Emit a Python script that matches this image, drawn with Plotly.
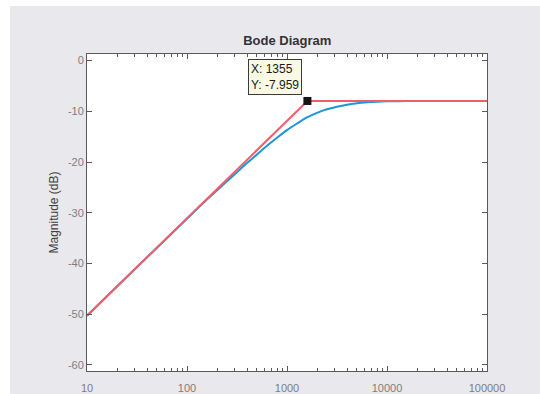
import plotly.graph_objects as go

# ---- data ----
freq_actual = [10, 31.6, 100, 158, 251, 316, 398, 501, 631, 794, 1000, 1259, 1585,
               1995, 2512, 3162, 3981, 5012, 6310, 7943, 10000, 15849, 31623, 100000]
mag_actual = [-50.3, -40.7, -31.2, -27.4, -23.8, -22.0, -20.2, -18.5, -16.8, -15.2,
              -13.7, -12.4, -11.2, -10.3, -9.6, -9.1, -8.7, -8.42, -8.23, -8.1,
              -8.03, -7.99, -7.97, -7.96]

freq_asym = [10, 1600, 100000]
mag_asym = [-50.3, -7.959, -7.959]

tip_freq = [1600]
tip_mag = [-7.959]
tip_text = "X: 1355<br>Y: -7.959"

x_tickvals = [10, 100, 1000, 10000, 100000]
x_ticktext = ["10", "100", "1000", "10000", "100000"]
y_tickvals = [-60, -50, -40, -30, -20, -10, 0]
y_ticktext = ["-60", "-50", "-40", "-30", "-20", "-10", "0"]

BLUE = "#1c97d3"
RED = "#f25d6b"
AXC = "#5a5a5a"
BG = "#e9e9ed"

fig = go.Figure()
fig.add_trace(go.Scatter(x=freq_actual, y=mag_actual, mode="lines",
                         line=dict(color=BLUE, width=2, shape="spline", smoothing=0.8),
                         hoverinfo="skip"))
fig.add_trace(go.Scatter(x=freq_asym, y=mag_asym, mode="lines",
                         line=dict(color=RED, width=2), hoverinfo="skip"))
fig.add_trace(go.Scatter(x=tip_freq, y=tip_mag, mode="markers",
                         marker=dict(symbol="square", size=8, color="#151515"),
                         hoverinfo="skip"))

fig.add_annotation(x=3.204, y=tip_mag[0], xref="x", yref="y", text=tip_text,
                   showarrow=False, xanchor="right", yanchor="bottom",
                   xshift=-5, yshift=6, align="left",
                   font=dict(family="Liberation Sans, Arial", size=12, color="#1a1a1a"),
                   bgcolor="#f9f9e4", bordercolor="#3a3a3a", borderwidth=1, borderpad=2)

# figure background (gray with thin white strip at top/left), white plot area
fig.add_shape(type="rect", xref="paper", yref="paper",
              x0=-0.1923, x1=1.135, y0=-0.08, y1=1.1516,
              fillcolor=BG, line=dict(width=0), layer="below")
fig.add_shape(type="rect", xref="x domain", yref="y domain",
              x0=0, x1=1, y0=0, y1=1,
              fillcolor="white", line=dict(width=0), layer="below")

fig.update_layout(
    width=540, height=394,
    margin=dict(l=87, r=52.5, t=54, b=23.3),
    paper_bgcolor="white", plot_bgcolor="white",
    showlegend=False,
    title=dict(text="<b>Bode Diagram</b>", x=0.532, xanchor="center",
               y=1 - 40 / 394, yanchor="middle", yref="container",
               font=dict(family="Liberation Sans, Arial", size=13, color="#333333")),
    font=dict(family="Liberation Sans, Arial"),
)

fig.update_xaxes(type="log", range=[1, 5], automargin=False,
                 tickmode="array", tickvals=x_tickvals, ticktext=x_ticktext,
                 ticks="inside", ticklen=5, tickcolor=AXC, tickwidth=1,
                 ticklabelstandoff=7,
                 minor=dict(ticks="inside", ticklen=3, tickcolor=AXC, dtick="D1", showgrid=False),
                 showline=True, linecolor=AXC, linewidth=1, mirror="ticks",
                 showgrid=False, zeroline=False,
                 tickfont=dict(size=11, color="#7d7d7d"))
fig.update_yaxes(range=[-61.2, 1.3], automargin=False,
                 tickmode="array", tickvals=y_tickvals, ticktext=y_ticktext,
                 ticks="inside", ticklen=5, tickcolor=AXC, tickwidth=1,
                 showline=True, linecolor=AXC, linewidth=1, mirror="ticks",
                 showgrid=False, zeroline=False,
                 tickfont=dict(size=11, color="#7d7d7d"),
                 title=dict(text="Magnitude (dB)", standoff=6,
                            font=dict(size=12, color="#404040")))

fig.write_html("out.html")
